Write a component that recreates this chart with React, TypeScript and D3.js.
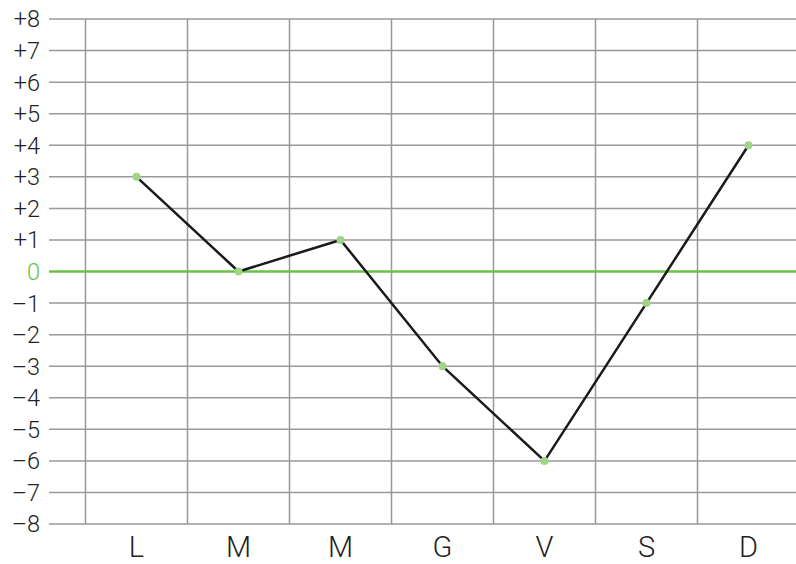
import React, { useRef, useEffect } from "react";
import * as d3 from "d3";

const days = ["L", "M", "M", "G", "V", "S", "D"];
const values = [3, 0, 1, -3, -6, -1, 4];
const yTicks = d3.range(-8, 9);

const width = 796;
const height = 564;

const fmt = (v: number) => (v > 0 ? `+${v}` : v < 0 ? `\u2013${-v}` : "0");

const App = () => {
  const svgRef = useRef<SVGSVGElement>(null);

  useEffect(() => {
    const svg = d3.select(svgRef.current);
    svg.selectAll("*").remove();

    const x = d3
      .scaleBand()
      .domain(d3.range(days.length).map(String))
      .range([85.5, 799.5]);
    const y = d3.scaleLinear().domain([-8, 8]).range([524, 19]);

    const font = "Roboto, 'Liberation Sans', sans-serif";

    // horizontal grid
    svg
      .append("g")
      .selectAll("line")
      .data(yTicks.filter((d) => d !== 0))
      .enter()
      .append("line")
      .attr("x1", 49)
      .attr("x2", width)
      .attr("y1", (d) => y(d))
      .attr("y2", (d) => y(d))
      .attr("stroke", "#999")
      .attr("stroke-width", 1.5);

    // vertical grid
    svg
      .append("g")
      .selectAll("line")
      .data(d3.range(days.length))
      .enter()
      .append("line")
      .attr("x1", (i) => x(String(i))!)
      .attr("x2", (i) => x(String(i))!)
      .attr("y1", y(8))
      .attr("y2", y(-8))
      .attr("stroke", "#999")
      .attr("stroke-width", 1.5);

    // zero line
    svg
      .append("line")
      .attr("x1", 49)
      .attr("x2", width)
      .attr("y1", y(0))
      .attr("y2", y(0))
      .attr("stroke", "#6cc04a")
      .attr("stroke-width", 2.5);

    // y labels
    svg
      .append("g")
      .selectAll("text")
      .data(yTicks)
      .enter()
      .append("text")
      .attr("x", 40)
      .attr("y", (d) => y(d))
      .attr("dy", "0.36em")
      .attr("text-anchor", "end")
      .attr("font-family", font)
      .attr("font-weight", 300)
      .attr("font-size", 23.5)
      .attr("fill", (d) => (d === 0 ? "#6cc04a" : "#222"))
      .text(fmt);

    // x labels
    svg
      .append("g")
      .selectAll("text")
      .data(days)
      .enter()
      .append("text")
      .attr("x", (_, i) => x(String(i))! + x.bandwidth() / 2)
      .attr("y", 557)
      .attr("text-anchor", "middle")
      .attr("font-family", font)
      .attr("font-weight", 300)
      .attr("font-size", 29)
      .attr("fill", "#222")
      .text((d) => d);

    const cx = (i: number) => x(String(i))! + x.bandwidth() / 2;

    const line = d3
      .line<number>()
      .x((_, i) => cx(i))
      .y((d) => y(d));

    svg
      .append("path")
      .datum(values)
      .attr("d", line)
      .attr("fill", "none")
      .attr("stroke", "#1a1a1a")
      .attr("stroke-width", 2.5);

    svg
      .append("g")
      .selectAll("circle")
      .data(values)
      .enter()
      .append("circle")
      .attr("cx", (_, i) => cx(i))
      .attr("cy", (d) => y(d))
      .attr("r", 4)
      .attr("fill", "#9fd585");
  }, []);

  return (
    <div style={{ position: "absolute", left: 0, top: 0 }}>
      <svg ref={svgRef} width={width} height={height} style={{ display: "block" }}></svg>
    </div>
  );
};

export default App;
